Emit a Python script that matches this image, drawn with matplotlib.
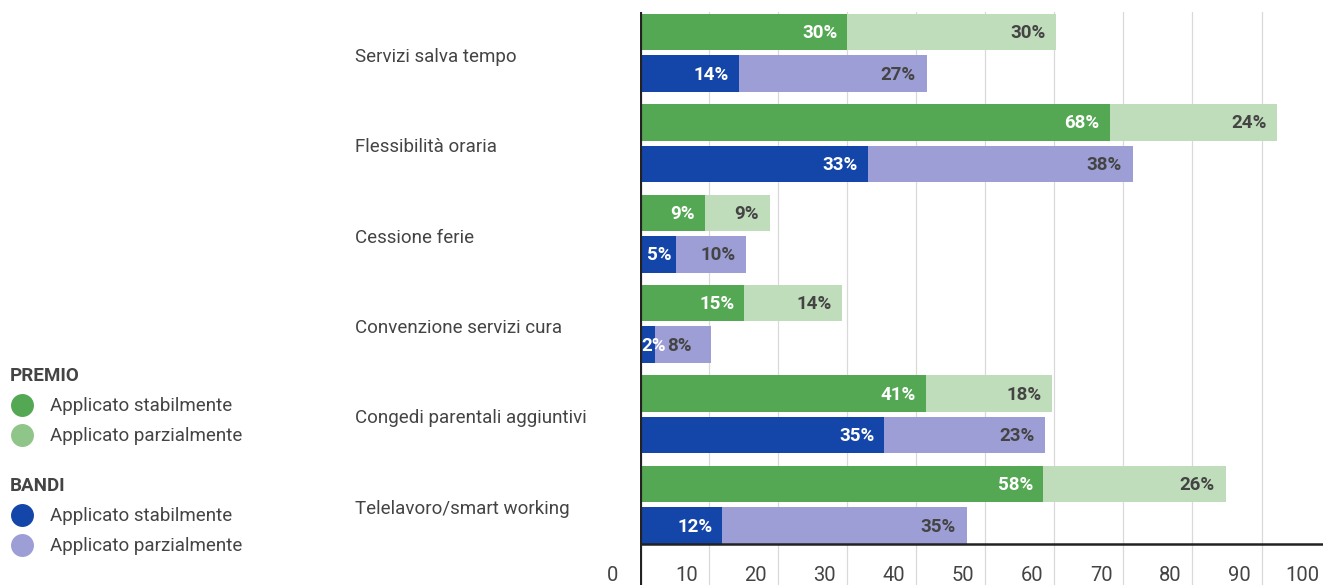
import matplotlib.pyplot as plt
import matplotlib.transforms as mtransforms
from matplotlib.lines import Line2D

plt.rcParams['font.family'] = ['Roboto', 'DejaVu Sans']

# data (percentages)
categories = ["Servizi salva tempo", "Flessibilità oraria", "Cessione ferie",
              "Convenzione servizi cura", "Congedi parentali aggiuntivi",
              "Telelavoro/smart working"]
premio_stabile = [30.0, 68.0, 9.4, 15.1, 41.4, 58.4]
premio_parziale = [30.3, 24.3, 9.4, 14.2, 18.3, 26.4]
bandi_stabile = [14.3, 33.0, 5.2, 2.2, 35.4, 11.9]
bandi_parziale = [27.2, 38.4, 10.2, 8.1, 23.3, 35.4]
xticks = [0, 10, 20, 30, 40, 50, 60, 70, 80, 90, 100]

c_green = "#55a853"
c_green_l = "#c0ddbb"
c_green_leg = "#8fc589"
c_blue = "#1446aa"
c_purple = "#9d9ed6"
c_text = "#444444"

W, H = 1323, 585
fig = plt.figure(figsize=(W / 100, H / 100), dpi=100)
ax = fig.add_axes([640 / W, 0, 683 / W, 573 / H])

xmax = 98.9
px = 683 / xmax  # pixels per unit

off, h = 0.23, 0.404
y = list(range(len(categories)))
y_top = [v - off for v in y]
y_bot = [v + off for v in y]

ax.barh(y_top, premio_stabile, height=h, color=c_green, zorder=2)
ax.barh(y_top, premio_parziale, left=premio_stabile, height=h, color=c_green_l, zorder=2)
ax.barh(y_bot, bandi_stabile, height=h, color=c_blue, zorder=2)
ax.barh(y_bot, bandi_parziale, left=bandi_stabile, height=h, color=c_purple, zorder=2)

# grid (set ticks before limits, set_xticks would widen the view)
ax.set_xticks(xticks[1:])
ax.xaxis.grid(True, color="#d9d9d9", linewidth=0.9, zorder=0)
ax.tick_params(length=0, labelbottom=False, labelleft=False)
ax.set_yticks([])
ax.set_xlim(0, xmax)
ax.set_ylim(5.888, -0.451)
for s in ax.spines.values():
    s.set_visible(False)
ax.axvline(0, color="#222222", linewidth=2.3, zorder=4)
ax.axhline(y_bot[-1] + h / 2, color="#222222", linewidth=1.8, zorder=4)

fs = 13.5


def offs(dx):
    return mtransforms.offset_copy(ax.transData, fig=fig, x=dx, y=-1, units='dots')


def label_row(yy, a, b):
    kw = dict(va='center', fontsize=fs, fontweight='bold', zorder=5)
    if a * px < 25:
        # segment too narrow: labels start at the axis, one after the other
        ax.text(0, yy, f"{round(a)}%", transform=offs(1), ha='left', color='white', **kw)
        ax.text(0, yy, f"{round(b)}%", transform=offs(27), ha='left', color=c_text, **kw)
        return
    if a * px < 45:
        ax.text(a / 2, yy, f"{round(a)}%", transform=offs(1), ha='center', color='white', **kw)
    else:
        ax.text(a, yy, f"{round(a)}%", transform=offs(-10), ha='right', color='white', **kw)
    ax.text(a + b, yy, f"{round(b)}%", transform=offs(-11), ha='right', color=c_text, **kw)


cat_tr = mtransforms.offset_copy(ax.get_yaxis_transform(), fig=fig, x=0, y=-4, units='dots')
for i in range(len(categories)):
    label_row(y_top[i], premio_stabile[i], premio_parziale[i])
    label_row(y_bot[i], bandi_stabile[i], bandi_parziale[i])
    ax.text(-(640 - 355) / 683, y[i], categories[i], transform=cat_tr,
            ha='left', va='center', fontsize=13.5, color=c_text, clip_on=False)

# tick labels (sit inside the bottom band, left of each gridline)
for v in xticks:
    dx = -22 if v == 0 else -11
    tr = mtransforms.offset_copy(ax.get_xaxis_transform(), fig=fig, x=dx, y=0, units='dots')
    ax.text(v, 0.0, str(v), transform=tr, ha='right', va='bottom', fontsize=14.5,
            color=c_text, clip_on=False)

# legend
def leg_item(ytop, text, color):
    fig.add_artist(Line2D([22 / W], [1 - ytop / H], marker='o', markersize=15.5,
                          color=color, linestyle='none', transform=fig.transFigure))
    fig.text(50 / W, 1 - (ytop + 1) / H, text, ha='left', va='center', fontsize=13.5, color=c_text)


fig.text(10 / W, 1 - 376 / H, "PREMIO", ha='left', va='center', fontsize=13.5,
         fontweight='bold', color=c_text)
leg_item(405, "Applicato stabilmente", c_green)
leg_item(435, "Applicato parzialmente", c_green_leg)
fig.text(10 / W, 1 - 486 / H, "BANDI", ha='left', va='center', fontsize=13.5,
         fontweight='bold', color=c_text)
leg_item(515, "Applicato stabilmente", c_blue)
leg_item(545, "Applicato parzialmente", c_purple)

fig.savefig("out.png", dpi=100)
